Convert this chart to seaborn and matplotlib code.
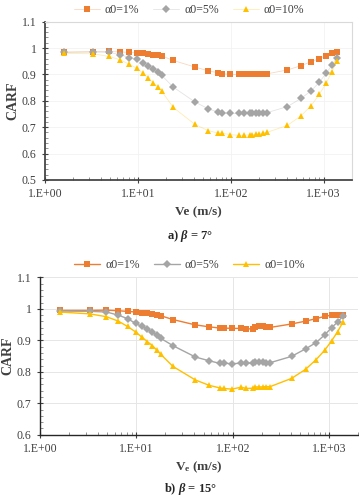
import matplotlib
matplotlib.use("Agg")
import matplotlib.pyplot as plt
import matplotlib.ticker as mticker
import pandas as pd
import seaborn as sns

# data
series = ["α0=1%", "α0=5%", "α0=10%"]
colors = ["#ED7D31", "#A5A5A5", "#FFC000"]
markers = ["s", "D", "^"]

ve = [1.6, 3.3, 4.9, 6.5, 8.1, 9.8, 11.4, 13, 14.7, 16.3, 18, 24, 41, 57, 73, 81,
      98, 122, 139, 163, 171, 188, 204, 220, 245, 408, 571, 735, 898, 1061, 1224, 1388]

# a) beta = 7 deg
carf7_1 = [0.985, 0.986, 0.987, 0.985, 0.983, 0.982, 0.98, 0.978, 0.975, 0.972, 0.97,
           0.953, 0.928, 0.914, 0.906, 0.903, 0.9, 0.9, 0.9, 0.9, 0.9, 0.901, 0.902,
           0.902, 0.902, 0.917, 0.933, 0.948, 0.96, 0.971, 0.98, 0.985]
carf7_5 = [0.983, 0.985, 0.983, 0.975, 0.963, 0.957, 0.945, 0.933, 0.92, 0.91, 0.897,
           0.852, 0.796, 0.77, 0.757, 0.755, 0.752, 0.752, 0.752, 0.754, 0.754, 0.754,
           0.755, 0.755, 0.755, 0.778, 0.809, 0.838, 0.87, 0.904, 0.934, 0.964]
carf7_10 = [0.98, 0.978, 0.968, 0.955, 0.938, 0.923, 0.904, 0.885, 0.868, 0.853, 0.837,
            0.775, 0.711, 0.687, 0.678, 0.677, 0.672, 0.669, 0.669, 0.672, 0.672, 0.674,
            0.676, 0.678, 0.68, 0.707, 0.743, 0.782, 0.824, 0.866, 0.908, 0.951]

# b) beta = 15 deg
carf15_1 = [0.995, 0.995, 0.996, 0.994, 0.992, 0.99, 0.988, 0.986, 0.984, 0.982, 0.978,
            0.966, 0.949, 0.943, 0.939, 0.939, 0.938, 0.938, 0.936, 0.937, 0.943, 0.944,
            0.944, 0.942, 0.941, 0.952, 0.961, 0.969, 0.976, 0.98, 0.98, 0.979]
carf15_5 = [0.993, 0.992, 0.99, 0.98, 0.969, 0.954, 0.944, 0.936, 0.925, 0.916, 0.906,
            0.883, 0.847, 0.835, 0.827, 0.827, 0.826, 0.827, 0.827, 0.829, 0.83, 0.83,
            0.83, 0.829, 0.829, 0.849, 0.873, 0.893, 0.917, 0.94, 0.958, 0.976]
carf15_10 = [0.99, 0.984, 0.975, 0.961, 0.944, 0.927, 0.91, 0.896, 0.883, 0.869, 0.855,
             0.817, 0.774, 0.757, 0.749, 0.747, 0.745, 0.751, 0.747, 0.748, 0.752, 0.752,
             0.752, 0.753, 0.753, 0.779, 0.808, 0.839, 0.868, 0.898, 0.927, 0.957]

xticks = [1, 10, 100, 1000]
xtick_labels = ["1.E+00", "1.E+01", "1.E+02", "1.E+03"]
captions = ["a) ", "b) "]
marker_sizes = [4.5, 3.6, 4.8]


def long_frame(s1, s5, s10):
    frames = []
    for name, vals in zip(series, [s1, s5, s10]):
        frames.append(pd.DataFrame({"Ve": ve, "CARF": vals, "series": name}))
    return pd.concat(frames, ignore_index=True)


sns.set_theme(style="white")
plt.rcParams["font.family"] = ["Liberation Serif", "DejaVu Serif"]
plt.rcParams["mathtext.fontset"] = "custom"
plt.rcParams["mathtext.rm"] = "Liberation Serif"
plt.rcParams["mathtext.it"] = "Liberation Serif:italic"
plt.rcParams["mathtext.bf"] = "Liberation Serif:bold"
plt.rcParams["mathtext.bfit"] = "Liberation Serif:bold:italic"

fig = plt.figure(figsize=(3.59, 4.98), dpi=100)
ax1 = fig.add_axes([0.1253, 0.6386, 0.854, 0.318])
ax2 = fig.add_axes([0.1114, 0.127, 0.886, 0.316])

pal = dict(zip(series, colors))
mk = dict(zip(series, markers))

for ax, data, ylim, faint in [(ax1, long_frame(carf7_1, carf7_5, carf7_10), (0.5, 1.1), True),
                              (ax2, long_frame(carf15_1, carf15_5, carf15_10), (0.6, 1.1), False)]:
    sns.lineplot(data=data, x="Ve", y="CARF", hue="series", style="series",
                 palette=pal, markers=mk, dashes=False, markersize=4.5,
                 markeredgewidth=0, linewidth=1.0, ax=ax, sort=False)
    ax.set_xscale("log")
    ax.set_xlim(1, 2000)
    ax.set_ylim(*ylim)
    ax.set_xticks(xticks, labels=xtick_labels)
    ax.yaxis.set_major_locator(mticker.MultipleLocator(0.1))
    ax.yaxis.set_minor_locator(mticker.MultipleLocator(0.02))
    ax.yaxis.set_major_formatter(mticker.FuncFormatter(lambda v, p: "%g" % round(v, 2)))
    ax.xaxis.set_minor_locator(mticker.LogLocator(base=10, subs=range(2, 10)))
    ax.xaxis.set_minor_formatter(mticker.NullFormatter())
    ax.tick_params(axis="both", which="major", labelsize=8.5, colors="#404040",
                   direction="inout", length=5, width=0.8, left=True, bottom=True)
    ax.tick_params(axis="both", which="minor", direction="in", length=2.5,
                   width=0.6, colors="#808080", left=True, bottom=True)
    ax.set_ylabel("CARF", fontsize=10, fontweight="bold", color="#404040", labelpad=2)
    for ln, ms in zip(ax.lines, marker_sizes):
        ln.set_markersize(ms)
    if faint:
        for ln, c in zip(ax.lines, colors):
            ln.set_color(matplotlib.colors.to_rgba(c, 0.3))
            ln.set_linewidth(0.6)
            ln.set_markerfacecolor(c)
            ln.set_markeredgecolor(c)
        ax.grid(True, which="major", color="#f2f2f2", linewidth=0.6)
        for s in ["left", "bottom"]:
            ax.spines[s].set_color("#404040")
        for s in ["top", "right"]:
            ax.spines[s].set_color("#d9d9d9")
            ax.spines[s].set_linewidth(0.8)
        ax.set_xlabel("Ve (m/s)", fontsize=9.5, fontweight="bold", color="#404040", labelpad=4)
    else:
        ax.grid(True, which="major", color="#e6e6e6", linewidth=0.7)
        for s in ["left", "bottom"]:
            ax.spines[s].set_color("#262626")
            ax.spines[s].set_linewidth(1.0)
        for s in ["top", "right"]:
            ax.spines[s].set_visible(False)
        ax.set_xlabel(r"V$_\mathregular{e}$ (m/s)", fontsize=9.5, fontweight="bold",
                      color="#404040", labelpad=3)
    leg = ax.legend(loc="lower center", bbox_to_anchor=(0.47, 1.0), ncol=3,
                    frameon=False, fontsize=8.5, handlelength=2.2,
                    columnspacing=1.2, handletextpad=0.4, borderaxespad=0.1)
    for t in leg.get_texts():
        t.set_color("#404040")
    for h, c, ms in zip(leg.get_lines(), colors, marker_sizes):
        h.set_markersize(ms)
        if faint:
            h.set_color(matplotlib.colors.to_rgba(c, 0.3))
            h.set_linewidth(0.6)
            h.set_markerfacecolor(c)
            h.set_markeredgecolor(c)

fig.text(0.53, 1 - 236 / 498, captions[0] + r"$\mathbfit{\beta}$ = 7°", ha="center",
         va="center", fontsize=9, fontweight="bold")
fig.text(0.53, 1 - 489 / 498, captions[1] + r"$\mathbfit{\beta}$ = 15°", ha="center",
         va="center", fontsize=9, fontweight="bold")

fig.savefig("out.png", dpi=100)
